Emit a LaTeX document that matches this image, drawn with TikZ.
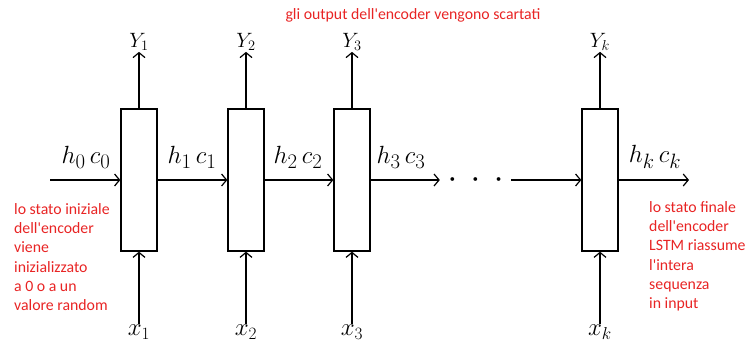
\documentclass[tikz,border=0pt]{standalone}
\usepackage{fontspec}
\newfontfamily\notefont{Carlito}
\usetikzlibrary{arrows.meta, positioning}
\definecolor{noteRed}{RGB}{232,36,36}

\begin{document}
\begin{tikzpicture}[x=1pt, y=-1pt,
  cell/.style={rectangle, draw, line width=1.3pt, minimum width=36pt, minimum height=142pt, inner sep=0pt},
  flow/.style={line width=1.3pt, -{Straight Barb[length=5pt, width=12pt, line width=1.2pt]}},
  state/.style={font=\fontsize{29}{29}\selectfont, inner sep=0pt},
  outlab/.style={font=\fontsize{22}{22}\selectfont, inner sep=1pt},
  inlab/.style={font=\fontsize{27}{27}\selectfont, inner sep=1pt},
  note/.style={font=\notefont\fontsize{15.8}{19.3}\selectfont, text=noteRed, align=left, inner sep=0pt}
]
\useasboundingbox (0,0) rectangle (746,353);

% encoder cells
\node[cell] (c1) at (139,180) {};
\node[cell] (c2) at (246,180) {};
\node[cell] (c3) at (352,180) {};
\node[cell] (ck) at (600,180) {};

% outputs
\node[outlab] (y1) at (139,42) {$Y_1$};
\node[outlab] (y2) at (246,42) {$Y_2$};
\node[outlab] (y3) at (352,42) {$Y_3$};
\node[outlab] (yk) at (600,42) {$Y_k$};
\foreach \n in {1,2,3,k} {
  \draw[flow] (c\n.north) -- (y\n.south);
}

% inputs
\node[inlab] (x1) at (139,332) {$x_1$};
\node[inlab] (x2) at (246,332) {$x_2$};
\node[inlab] (x3) at (352,332) {$x_3$};
\node[inlab] (xk) at (600,332) {$x_k$};
\foreach \n in {1,2,3,k} {
  \draw[flow] (xk.north -| c\n.south) -- (c\n.south);
}

% hidden and cell states
\coordinate (h0) at (50,180);
\coordinate (hk) at (689,180);
\node[inner sep=0pt, minimum width=71pt] (dots) at (475.5,180)
  {\hbox{\scalebox{1.3}{\textbullet}\hspace{13pt}\scalebox{1.3}{\textbullet}\hspace{13pt}\scalebox{1.3}{\textbullet}}};
\draw[flow] (h0) -- (c1.west);
\draw[flow] (c1.east) -- (c2.west);
\draw[flow] (c2.east) -- (c3.west);
\draw[flow] (c3.east) -- (dots.west);
\draw[flow] (dots.east) -- (ck.west);
\draw[flow] (ck.east) -- (hk);

\node[state] (s0) at (86,157) {$h_0\,c_0$};
\node[state] (s1) at (192,157) {$h_1\,c_1$};
\node[state] (s2) at (298,157) {$h_2\,c_2$};
\node[state] (s3) at (401,157) {$h_3\,c_3$};
\node[state] (sk) at (655,157) {$h_k\,c_k$};

% notes
\node[note] (title) at (413,15) {gli output dell'encoder vengono scartati};
\node[note, anchor=north west] (initnote) at (14,203) {lo stato iniziale\\dell'encoder\\viene\\inizializzato\\a 0 o a un\\valore random};
\node[note, anchor=north west] (finalnote) at (649,201) {lo stato finale\\dell'encoder\\LSTM riassume\\l'intera\\sequenza\\in input};

\end{tikzpicture}
\end{document}
